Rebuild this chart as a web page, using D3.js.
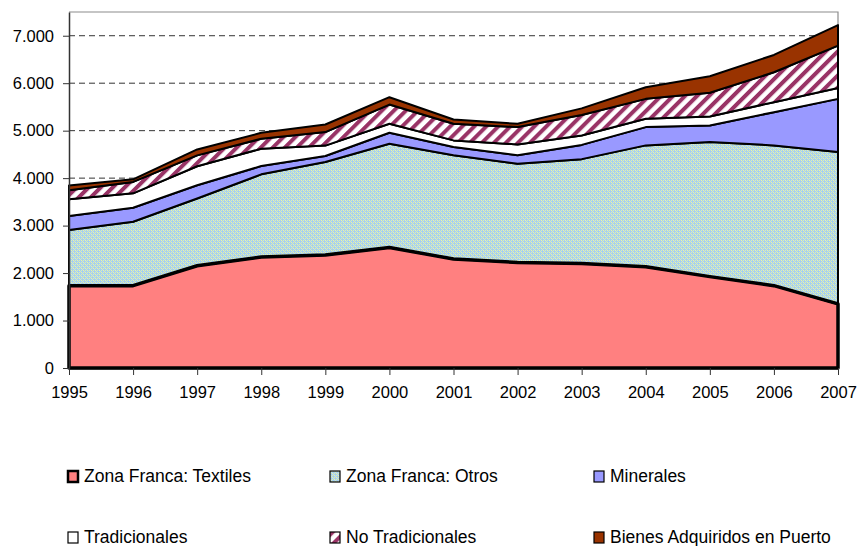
<!DOCTYPE html>
<html>
<head>
<meta charset="utf-8">
<script src="https://cdn.jsdelivr.net/npm/d3@7"></script>
<style>
  body { margin: 0; background: #fff; }
  text { font-family: "Liberation Sans", Arial, sans-serif; fill: #000; }
</style>
</head>
<body>
<div id="my_dataviz"></div>
<script>
// years on the x axis
const years = [1995, 1996, 1997, 1998, 1999, 2000, 2001, 2002, 2003, 2004, 2005, 2006, 2007];

// series values (millions)
const textiles = [1735, 1735, 2155, 2340, 2380, 2540, 2295, 2225, 2200, 2135, 1925, 1735, 1350];
const otros = [1170, 1345, 1415, 1740, 1960, 2185, 2185, 2080, 2200, 2555, 2835, 2955, 3200];
const minerales = [295, 295, 280, 175, 125, 230, 175, 175, 300, 385, 350, 700, 1120];
const tradicionales = [355, 305, 400, 365, 220, 190, 140, 230, 200, 175, 190, 210, 230];
const noTradicionales = [190, 240, 230, 210, 285, 405, 350, 365, 430, 420, 500, 630, 890];
const bienes = [100, 55, 125, 125, 160, 155, 90, 70, 140, 245, 345, 365, 435];

const seriesNames = ["Zona Franca: Textiles", "Zona Franca: Otros", "Minerales",
    "Tradicionales", "No Tradicionales", "Bienes Adquiridos en Puerto"];
const seriesKeys = ["tex", "otros", "min", "trad", "nt", "bienes"];

const yTicks = [0, 1000, 2000, 3000, 4000, 5000, 6000, 7000];

const margin = {
        top: 12,
        right: 19,
        bottom: 178,
        left: 69
    },
    width = 857 - margin.left - margin.right,
    height = 546 - margin.top - margin.bottom;

const svgRoot = d3.select("#my_dataviz")
    .append("svg")
    .attr("width", 857)
    .attr("height", 546);

// ---- patterns ----
const defs = svgRoot.append("defs");

const dots = defs.append("pattern")
    .attr("id", "otrosFill")
    .attr("width", 4)
    .attr("height", 4)
    .attr("patternUnits", "userSpaceOnUse");
dots.append("rect").attr("width", 4).attr("height", 4).attr("fill", "#a6cff0");
// pale yellow lattice over the blue
[[0, 0, "#f2f7a0"], [2, 2, "#f2f7a0"], [1, 1, "#d4eac2"], [3, 3, "#d4eac2"],
 [0, 2, "#dcefb8"], [2, 0, "#dcefb8"]].forEach(p => {
    dots.append("rect").attr("x", p[0]).attr("y", p[1])
        .attr("width", 1).attr("height", 1).attr("fill", p[2]);
});

const stripes = defs.append("pattern")
    .attr("id", "ntFill")
    .attr("width", 8.5)
    .attr("height", 8.5)
    .attr("patternUnits", "userSpaceOnUse")
    .attr("patternTransform", "rotate(45)");
stripes.append("rect").attr("width", 8.5).attr("height", 8.5).attr("fill", "#fff");
stripes.append("rect").attr("width", 4).attr("height", 8.5).attr("fill", "#993366");

const fills = {
    tex: "#ff8080",
    otros: "url(#otrosFill)",
    min: "#9999ff",
    trad: "#ffffff",
    nt: "url(#ntFill)",
    bienes: "#993300"
};

const svg = svgRoot.append("g")
    .attr("transform", `translate(${margin.left}, ${margin.top})`);

// build the table for d3.stack
const data = years.map((yr, i) => ({
    year: yr,
    tex: textiles[i],
    otros: otros[i],
    min: minerales[i],
    trad: tradicionales[i],
    nt: noTradicionales[i],
    bienes: bienes[i]
}));

const x = d3.scaleLinear()
    .domain([1995, 2007])
    .range([0, width]);

const y = d3.scaleLinear()
    .domain([0, 7500])
    .range([height, 0]);

// dashed grid lines
svg.append("g")
    .selectAll("line")
    .data(yTicks.filter(d => d > 0))
    .join("line")
    .attr("x1", 0)
    .attr("x2", width)
    .attr("y1", d => y(d))
    .attr("y2", d => y(d))
    .attr("stroke", "#333")
    .attr("stroke-width", 1)
    .attr("stroke-dasharray", "6,4");

// frame top / right
svg.append("path")
    .attr("d", `M0,0H${width}V${height}`)
    .attr("fill", "none")
    .attr("stroke", "#8c8c8c")
    .attr("stroke-width", 1.2);

const stackedData = d3.stack()
    .keys(seriesKeys)
    (data);

const area = d3.area()
    .x(d => x(d.data.year))
    .y0(d => y(d[0]))
    .y1(d => y(d[1]));

svg.append("g")
    .selectAll("path")
    .data(stackedData)
    .join("path")
    .attr("d", area)
    .attr("fill", d => fills[d.key])
    .attr("stroke", "#000")
    .attr("stroke-width", 2)
    .attr("stroke-linejoin", "round");

// heavier outline on the textiles series
svg.append("path")
    .datum(stackedData[0])
    .attr("d", area)
    .attr("fill", "none")
    .attr("stroke", "#000")
    .attr("stroke-width", 3.5)
    .attr("stroke-linejoin", "round");

// axes
const xAxis = svg.append("g")
    .attr("transform", `translate(0, ${height})`)
    .call(d3.axisBottom(x).tickValues(years).tickFormat(d3.format("d")).tickSize(7).tickPadding(11).tickSizeOuter(0));
xAxis.select(".domain").attr("stroke", "#000").attr("stroke-width", 1.5);
xAxis.selectAll(".tick line").attr("stroke", "#333");
xAxis.selectAll("text").style("font-size", "16.5px");

const yAxis = svg.append("g")
    .call(d3.axisLeft(y).tickValues(yTicks)
        .tickFormat(d => d === 0 ? "0" : d3.format(",")(d).replace(",", "."))
        .tickSize(6).tickPadding(9).tickSizeOuter(0));
yAxis.select(".domain").attr("stroke", "#333").attr("stroke-width", 1.5);
yAxis.selectAll(".tick line").attr("stroke", "#333");
yAxis.selectAll("text").style("font-size", "16.5px");

// legend
const legendPos = [
    [68, 471], [330, 471], [594, 471],
    [68, 532], [330, 532], [594, 532]
];
const legend = svgRoot.append("g")
    .selectAll("g")
    .data(seriesKeys)
    .join("g")
    .attr("transform", (d, i) => `translate(${legendPos[i][0]}, ${legendPos[i][1]})`);

legend.append("rect")
    .attr("width", 10)
    .attr("height", 11)
    .attr("fill", d => fills[d])
    .attr("stroke", "#000")
    .attr("stroke-width", d => d === "tex" ? 2.5 : 1.2);

legend.append("text")
    .attr("x", 16)
    .attr("y", 11)
    .style("font-size", "17.5px")
    .text((d, i) => seriesNames[i]);
</script>
</body>
</html>
